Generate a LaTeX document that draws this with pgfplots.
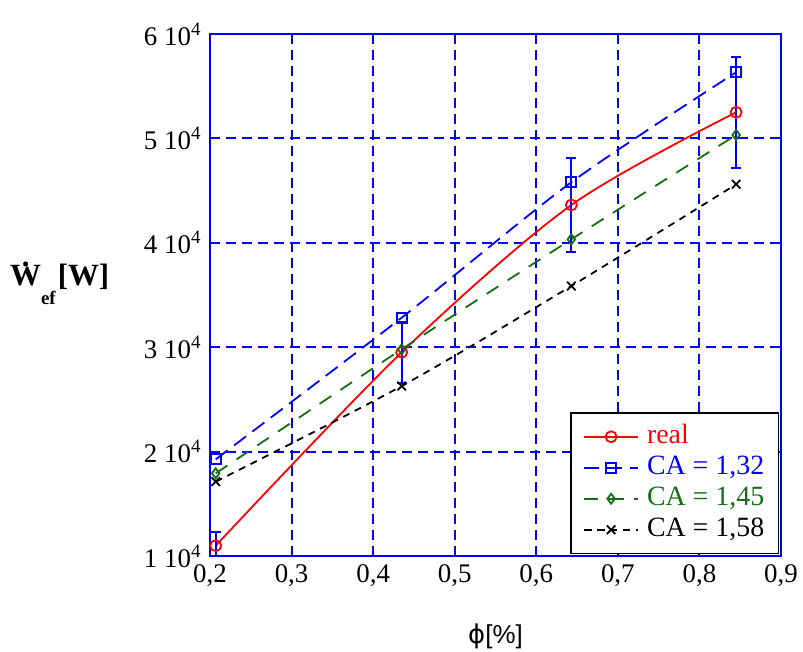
\documentclass[border=0pt]{standalone}
\usepackage{fontspec}
\setmainfont{Liberation Serif}
\newfontfamily\dejavu{DejaVu Sans}
\newfontfamily\lsans{Liberation Sans}
\usepackage{pgfplots}
\pgfplotsset{compat=1.18}
\definecolor{dgreen}{RGB}{20,110,20}
\newcommand{\dotW}{\setbox0=\hbox{\bfseries W}\rlap{\hbox to \wd0{\hss\raisebox{0.6em}{\bfseries .}\hss}}\textbf{W}}
\newcommand{\tfour}{10\raisebox{10bp}{\fontsize{19}{20}\selectfont 4}}
\begin{document}
\begin{tikzpicture}
\useasboundingbox (-210bp,-96bp) rectangle (593bp,556bp);
\begin{axis}[
  scale only axis, width=571bp, height=522bp,
  xmin=0.2, xmax=0.9, ymin=10000, ymax=60000,
  xtick={0.2,0.3,0.4,0.5,0.6,0.7,0.8,0.9},
  xticklabels={{0,2},{0,3},{0,4},{0,5},{0,6},{0,7},{0,8},{0,9}},
  ytick={10000,20000,30000,40000,50000,60000},
  yticklabels={1 \tfour,2 \tfour,3 \tfour,4 \tfour,5 \tfour,6 \tfour},
  scaled y ticks=false, scaled x ticks=false,
  grid=major,
  major grid style={blue, dash pattern=on 10bp off 6bp, line width=2bp},
  axis line style={blue, line width=2bp},
  tick style={blue, line width=2bp},
  major tick length=10bp,
  tick align=inside,
  ticklabel style={font=\fontsize{27}{30}\selectfont},
  xticklabel style={yshift=-5bp},
  yticklabel style={xshift=-6bp},
  xlabel={\fontsize{26}{30}\selectfont{\dejavu ϕ}{\lsans[\%]}},
  xlabel style={at={(axis description cs:0.5,0)}, anchor=center, yshift=-80bp},
  ylabel={\fontsize{31}{34}\selectfont\dotW\raisebox{-19bp}{\fontsize{19}{20}\selectfont\bfseries ef}\hspace{2bp}\textbf{[W]}},
  ylabel style={rotate=-90, anchor=base west, inner sep=0pt, at={(axis description cs:-0.3503,0.519)}},
  legend style={at={(rel axis cs:1,0)}, anchor=south east, xshift=-2bp, yshift=2bp,
    draw=black, line width=1.5bp, fill=white,
    font=\fontsize{28}{30}\selectfont,
    inner xsep=12bp, inner ysep=9bp, row sep=2bp,
    nodes={inner sep=2bp, text height=19bp, text depth=6bp}},
  legend cell align=left,
  legend image code/.code={\draw[#1,mark repeat=2,mark phase=2] plot coordinates {(0bp,0bp) (27bp,0bp) (54bp,0bp)};},
]
\addplot[red, line width=1.8bp, smooth, mark=o, mark size=5.5bp, mark options={solid, line width=1.8bp}]
  coordinates {(0.207,10990) (0.435,29510) (0.643,43620) (0.845,52500)};
\addlegendentry{\hspace{6bp}\textcolor{red}{real}\hspace{8bp}}
\addplot[blue, line width=1.8bp, smooth, dash pattern=on 15bp off 8bp, mark=square, mark size=5bp, mark options={solid, line width=1.8bp}]
  coordinates {(0.207,19260) (0.435,32830) (0.643,45800) (0.845,56330)};
\addlegendentry{\hspace{6bp}\textcolor{blue}{CA = 1,32}\hspace{8bp}}
\addplot[dgreen, line width=1.8bp, smooth, dash pattern=on 14bp off 11bp, mark=diamond, mark size=5bp, mark options={solid, line width=1.8bp}]
  coordinates {(0.207,17920) (0.435,29800) (0.643,40335) (0.845,50330)};
\addlegendentry{\hspace{6bp}\textcolor{dgreen}{CA = 1,45}\hspace{8bp}}
\addplot[black, line width=1.8bp, smooth, dash pattern=on 7bp off 6bp, mark=x, mark size=6bp, mark options={solid, line width=1.8bp}]
  coordinates {(0.207,17120) (0.435,26280) (0.643,35860) (0.845,45600)};
\addlegendentry{\hspace{6bp}CA = 1,58\hspace{8bp}}
\addplot[draw=none, forget plot, error bars/.cd, y dir=both, y explicit,
   error bar style={draw=blue, solid, line width=2bp},
   error mark options={rotate=90, draw=blue, solid, line width=2bp, mark size=5bp}]
  coordinates {(0.207,10990) +- (0,1280) (0.435,29510) +- (0,2950) (0.643,43620) +- (0,4500) (0.845,52500) +- (0,5300)};
\end{axis}
\end{tikzpicture}
\end{document}
